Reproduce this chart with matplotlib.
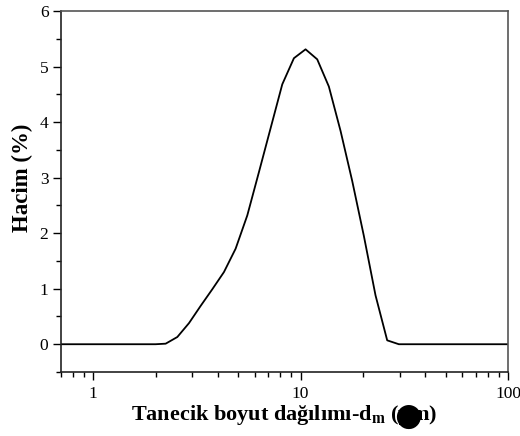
import matplotlib
matplotlib.use("Agg")
import matplotlib.pyplot as plt
from matplotlib.ticker import MultipleLocator, LogLocator, FixedLocator, NullFormatter

plt.rcParams['font.family'] = ['Liberation Serif', 'DejaVu Serif']
plt.rcParams['mathtext.fontset'] = 'custom'
plt.rcParams['mathtext.rm'] = 'Liberation Serif'
plt.rcParams['mathtext.it'] = 'Liberation Serif:italic'
plt.rcParams['mathtext.bf'] = 'Liberation Serif:bold'

# Data: particle size (µm) vs volume (%)
size_um = [0.5, 1.0, 1.5, 2.0, 2.237, 2.546, 2.898, 3.298, 3.754, 4.273, 4.863,
           5.536, 6.300, 7.171, 8.162, 9.288, 10.57, 12.03, 13.69, 15.59,
           17.74, 20.19, 22.98, 26.16, 29.77, 40.0, 60.0, 100.0, 150.0]
volume_pct = [0.0, 0.0, 0.0, 0.0, 0.01, 0.13, 0.38, 0.69, 0.99, 1.30, 1.72,
              2.32, 3.10, 3.89, 4.68, 5.15, 5.31, 5.13, 4.64, 3.84,
              2.94, 1.95, 0.88, 0.07, 0.0, 0.0, 0.0, 0.0, 0.0]

x_ticks = [1, 10, 100]
x_tick_labels = ['1', '10', '100']
y_ticks = [0, 1, 2, 3, 4, 5, 6]

W, H = 520, 436
fig = plt.figure(figsize=(W/100, H/100), dpi=100)
ax = fig.add_axes([61/W, 1-372/H, (508-61)/W, (372-11)/H])

ax.plot(size_um, volume_pct, color='black', lw=1.3)

ax.set_xscale('log')
ax.set_xlim(0.7, 100)
ax.set_ylim(-0.5, 6)

ax.xaxis.set_major_locator(FixedLocator(x_ticks))
ax.set_xticklabels(x_tick_labels)
ax.xaxis.set_minor_locator(LogLocator(base=10, subs=[2, 3, 4, 5, 6, 7, 8, 9]))
ax.xaxis.set_minor_formatter(NullFormatter())
ax.yaxis.set_major_locator(FixedLocator(y_ticks))
ax.yaxis.set_minor_locator(MultipleLocator(0.5))

ax.tick_params(which='major', direction='out', length=6, width=1.0, labelsize=12.5, pad=3)
ax.tick_params(which='minor', direction='out', length=3.5, width=1.0)
ax.tick_params(axis='x', which='major', pad=4)

for side in ['left', 'bottom']:
    ax.spines[side].set_color('#222222')
    ax.spines[side].set_linewidth(1.2)
for side in ['top', 'right']:
    ax.spines[side].set_color('#555555')
    ax.spines[side].set_linewidth(1.2)

ax.set_ylabel('Hacim (%)', fontsize=16.5, fontweight='bold')
ax.yaxis.set_label_coords((33-61)/447, (372-178)/361)

# x label with the blotted unit glyph as in the reference
fig.text(284.5/W, 1-419.5/H, 'Tanecik boyut dağılımı-d$_\\mathbf{m}$ (\u03bcm)',
         fontsize=16, fontweight='bold', ha='center', va='baseline')
fig.text(406/W, 1-417.5/H, '$\u25cf$', fontsize=40, ha='center', va='center',
         color='black')

fig.savefig('out.png', dpi=100)
